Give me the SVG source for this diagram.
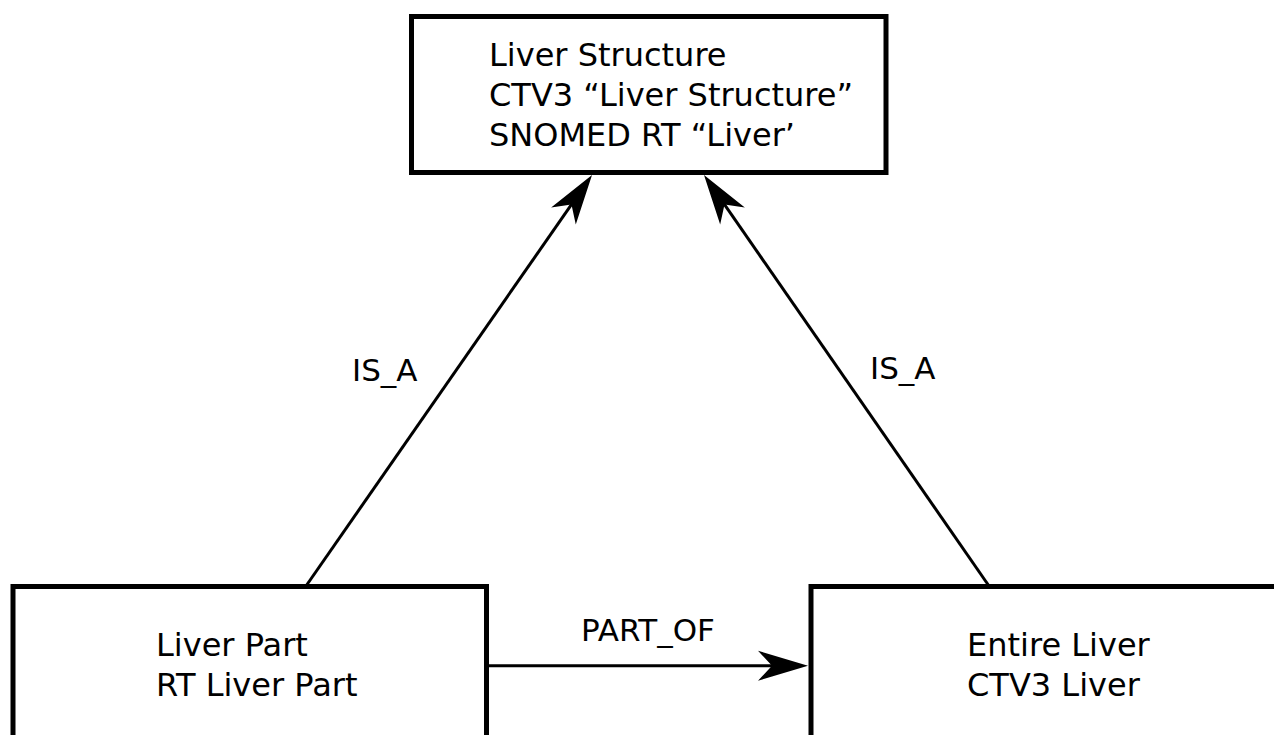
<svg xmlns="http://www.w3.org/2000/svg" width="1274" height="735" viewBox="0 0 1274 735">
<style>
.box{fill:#fff;stroke:#000;stroke-width:5}
.t{font-family:"DejaVu Sans",sans-serif;font-size:32px;fill:#000}
.l{font-family:"DejaVu Sans",sans-serif;font-size:31px;fill:#000}
.c{stroke:#000;stroke-width:3;fill:none;marker-end:url(#ah)}
</style>
<defs>
<marker id="ah" markerUnits="userSpaceOnUse" viewBox="-52 -17 54 34" markerWidth="54" markerHeight="34" refX="-20" refY="0" orient="auto">
<path d="M0,0 L-50,-15 L-36,0 L-50,15 Z" fill="#000"/>
</marker>
</defs>
<rect width="1274" height="735" fill="#fff"/>
<g id="connectors">
<line class="c" x1="306" y1="586" x2="580.6" y2="191.4"/>
<line class="c" x1="989" y1="586" x2="715.4" y2="191.4"/>
<line class="c" x1="486" y1="665.7" x2="788" y2="665.7"/>
<text class="l" x="352" y="381">IS_A</text>
<text class="l" x="870" y="379">IS_A</text>
<text class="l" x="581" y="641">PART_OF</text>
</g>
<g id="liver-structure">
<rect class="box" x="411.5" y="16.5" width="474.5" height="156"/>
<text class="t" x="489" y="66">Liver Structure</text>
<text class="t" x="489" y="106">CTV3 “Liver Structure”</text>
<text class="t" x="489" y="146">SNOMED RT “Liver’</text>
</g>
<g id="liver-part">
<rect class="box" x="13" y="586.5" width="473.5" height="200"/>
<text class="t" x="156" y="656">Liver Part</text>
<text class="t" x="156" y="696">RT Liver Part</text>
</g>
<g id="entire-liver">
<rect class="box" x="811" y="586.5" width="500" height="200"/>
<text class="t" x="967" y="656">Entire Liver</text>
<text class="t" x="967" y="696">CTV3 Liver</text>
</g>
</svg>
